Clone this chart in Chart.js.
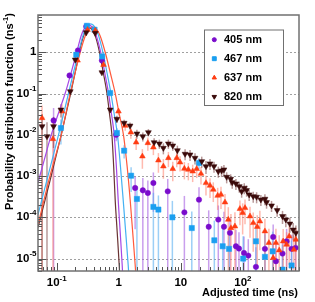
<!DOCTYPE html>
<html><head><meta charset="utf-8">
<script src="https://cdn.jsdelivr.net/npm/chart.js@4.4.1/dist/chart.umd.min.js"></script>
<style>html,body{margin:0;padding:0;background:#fff;}canvas{display:block;}</style>
</head><body>
<canvas id="c" width="315" height="302"></canvas>
<script>
// ---------- data ----------
const seriesLabels = ['405 nm', '467 nm', '637 nm', '820 nm'];

const t405 = [0.0891, 0.161, 0.22, 0.299, 0.535, 0.908, 1.835, 2.44, 2.94, 3.61, 6.15, 11.4, 19.6, 28.1, 40.1, 49.5, 61.8, 77.1, 86.3, 104, 122, 162, 226, 307, 340, 434, 505, 607, 705];
const p405 = [0.0223, 0.274, 1.105, 4.21, 0.633, 0.01, 5.15e-4, 4.51e-4, 3.9e-4, 6.8e-4, 4.26e-4, 1.32e-4, 2.68e-4, 5.9e-5, 8.8e-5, 5.9e-5, 4.2e-5, 1.99e-5, 1.75e-5, 1.37e-5, 1.18e-5, 6.3e-6, 1.72e-5, 3.35e-5, 8.6e-6, 1.32e-5, 2.62e-5, 1.72e-5, 1.82e-5];
const e405 = [1.0, 0.15, 0.06, 0.04, 0.08, 0.3, 0.9, 1.0, 1.0, 0.8, 1.0, 1.5, 1.0, 1.5, 1.2, 1.3, 1.3, 1.5, 1.5, 1.5, 1.5, 2.0, 1.5, 1.0, 1.5, 1.3, 1.0, 1.2, 1.2];

const t467 = [0.117, 0.2065, 0.307, 0.407, 0.541, 0.727, 0.932, 1.22, 1.58, 1.96, 3.61, 4.35, 7.3, 15.0, 19.6, 34.6, 47.2, 59.6, 101, 162, 226, 301, 434, 607];
const p467 = [0.0146, 0.87, 4.38, 3.51, 0.791, 0.1028, 0.01106, 0.00412, 0.00102, 2.79e-4, 1.79e-4, 1.54e-4, 1.0e-4, 5.5e-5, 2.08e-3, 2.77e-5, 1.99e-5, 1.72e-5, 1.0e-5, 2.62e-5, 1.1e-5, 1.5e-5, 5.4e-6, 6.8e-6];
const e467 = [0.6, 0.06, 0.04, 0.04, 0.06, 0.1, 0.3, 0.35, 0.6, 1.0, 1.2, 1.2, 1.5, 1.5, 0.3, 2.0, 2.0, 2.0, 2.5, 1.5, 2.5, 2.0, 3.0, 3.0];

const t637 = [0.0581, 0.0871, 0.1217, 0.217, 0.314, 0.418, 0.568, 0.989, 1.27, 1.565, 1.905, 2.40, 2.94, 3.61, 4.35, 5.23, 6.30, 7.41, 8.59, 9.71, 11.4, 13.2, 15.5, 18.0, 21.1, 25.4, 29.5, 33.3, 39.2, 44.3, 51.4, 58.1, 64.1, 74.3, 89.5, 98.9, 108, 130, 146.5, 170, 187.5, 226, 262, 307, 340, 384, 445, 505, 556, 661, 712];
const p637 = [0.0255, 0.0079, 0.0369, 0.633, 3.51, 3.37, 0.498, 0.0369, 0.0166, 0.01143, 0.00655, 0.0030, 0.00633, 0.00495, 0.0024, 0.00172, 0.00274, 0.00149, 0.00274, 0.00215, 0.00151, 0.00143, 0.0013, 0.00149, 0.00114, 6.8e-4, 5.86e-4, 4.69e-4, 3.35e-4, 3.55e-4, 2.31e-4, 8.8e-5, 5.5e-5, 6.05e-5, 1.6e-4, 1.28e-4, 1.69e-4, 1.06e-4, 7.3e-5, 5.9e-5, 8.0e-5, 4.6e-5, 2.4e-5, 1.04e-5, 2.4e-5, 1.59e-5, 2.62e-5, 2.18e-5, 3.47e-5, 1.65e-5, 2.88e-5];
const e637 = [1.0, 1.5, 0.5, 0.06, 0.04, 0.04, 0.08, 0.2, 0.25, 0.3, 0.35, 0.5, 0.35, 0.35, 0.5, 0.5, 0.4, 0.5, 0.4, 0.4, 0.45, 0.45, 0.45, 0.4, 0.45, 0.5, 0.5, 0.5, 0.55, 0.55, 0.6, 1.0, 1.2, 1.2, 0.6, 0.7, 0.6, 0.7, 0.8, 0.9, 0.8, 1.0, 1.2, 1.5, 1.2, 1.3, 1.0, 1.0, 0.8, 1.2, 0.9];

const t820 = [0.0581, 0.0698, 0.0891, 0.117, 0.1655, 0.199, 0.299, 0.418, 0.535, 0.727, 0.932, 1.22, 1.52, 1.96, 2.44, 3.0, 3.71, 4.51, 5.23, 6.3, 7.41, 8.79, 11.7, 14.06, 16.9, 21.7, 25.4, 29.5, 34.2, 40.1, 45.3, 49.4, 54.7, 63.4, 67.2, 77.1, 87.3, 95.3, 105, 114.6, 126, 146.5, 166, 194.5, 226, 240, 289, 356, 434, 491, 570, 644, 712];
const p820 = [0.016, 0.00915, 0.016, 0.0405, 0.1125, 0.658, 3.01, 2.92, 0.324, 0.0405, 0.0241, 0.0193, 0.0166, 0.01065, 0.00915, 0.01143, 0.00655, 0.0061, 0.00479, 0.0061, 0.00545, 0.00419, 0.00343, 0.0033, 0.00274, 0.00227, 0.00172, 0.002, 0.00172, 0.0013, 0.00135, 0.00143, 9.5e-4, 8.5e-4, 7.03e-4, 6.54e-4, 5.63e-4, 4.26e-4, 5.15e-4, 4.51e-4, 3.55e-4, 3.22e-4, 3.12e-4, 2.68e-4, 2.79e-4, 2.31e-4, 1.92e-4, 1.48e-4, 1.06e-4, 8.8e-5, 7.0e-5, 5.0e-5, 4.2e-5];
const e820 = [1.0, 1.2, 0.7, 0.35, 0.15, 0.06, 0.03, 0.03, 0.06, 0.15, 0.2, 0.2, 0.2, 0.25, 0.25, 0.2, 0.25, 0.25, 0.3, 0.25, 0.25, 0.3, 0.3, 0.3, 0.3, 0.3, 0.35, 0.3, 0.3, 0.3, 0.3, 0.3, 0.3, 0.3, 0.3, 0.3, 0.3, 0.3, 0.3, 0.3, 0.3, 0.3, 0.3, 0.3, 0.3, 0.3, 0.3, 0.3, 0.35, 0.35, 0.4, 0.45, 0.5];

// fitted curves
const fitT405 = [0.05, 0.0632, 0.0819, 0.106, 0.1375, 0.1718, 0.2104, 0.2486, 0.283, 0.328, 0.380, 0.433, 0.512, 0.593, 0.683, 0.763, 0.843, 0.915, 0.978, 1.053, 1.134, 1.199];
const fitP405 = [6.92e-4, 2.49e-3, 0.01005, 0.0324, 0.1028, 0.328, 1, 2.55, 3.90, 4.63, 3.90, 2.55, 1, 0.328, 0.1028, 0.0324, 0.01, 1.69e-3, 2.68e-4, 4.5e-5, 7.2e-6, 1.34e-6];
const fitT467 = [0.05, 0.0733, 0.1073, 0.1553, 0.187, 0.225, 0.268, 0.305, 0.353, 0.410, 0.4665, 0.555, 0.644, 0.746, 0.843, 0.953, 1.065, 1.177, 1.291, 1.416, 1.525];
const fitP467 = [1.16e-4, 1.08e-3, 0.01005, 0.1028, 0.328, 1, 2.68, 4.12, 4.90, 4.12, 2.68, 1, 0.328, 0.1028, 0.0324, 0.01, 1.69e-3, 2.68e-4, 4.5e-5, 7.2e-6, 1.34e-6];
const fitT637 = [0.05, 0.0789, 0.1186, 0.1655, 0.199, 0.2394, 0.2884, 0.328, 0.3805, 0.441, 0.502, 0.6045, 0.727, 0.875, 1.015, 1.19, 1.365, 1.525, 1.673, 1.835, 1.976];
const fitP637 = [6.65e-5, 1.08e-3, 0.01005, 0.1028, 0.328, 1, 2.48, 3.58, 4.14, 3.58, 2.48, 1, 0.328, 0.1028, 0.0324, 0.01, 1.69e-3, 2.68e-4, 4.5e-5, 7.2e-6, 1.34e-6];
const fitT820 = [0.05, 0.0789, 0.1186, 0.1685, 0.199, 0.2308, 0.2648, 0.2958, 0.3367, 0.3834, 0.4283, 0.4895, 0.5613, 0.644, 0.7086, 0.7746, 0.828, 0.875, 0.9425, 1.015, 1.073];
const fitP820 = [5.63e-5, 8.18e-4, 0.01005, 0.1028, 0.328, 1, 2.24, 3.33, 3.92, 3.33, 2.24, 1, 0.328, 0.1028, 0.0324, 0.01, 1.69e-3, 2.68e-4, 4.5e-5, 7.2e-6, 1.34e-6];

// axis ticks
const xTickVals = [0.1, 1, 10, 100];
const xTickBase = ['10', '1', '10', '10'];
const xTickSup  = ['-1', '', '', '2'];
const yTickVals = [1, 0.1, 0.01, 0.001, 1e-4, 1e-5];
const yTickBase = ['1', '10', '10', '10', '10', '10'];
const yTickSup  = ['', '-1', '-2', '-3', '-4', '-5'];
const xTitle = 'Adjusted time (ns)';
const yTitleMain = 'Probability distribution function (ns';
const yTitleSup = '-1';
const yTitleEnd = ')';

// ---------- styling ----------
const FONT = '"Liberation Sans", Arial, Helvetica, sans-serif';
const markColors = ['#7a0ccc', '#1a9ff0', '#ff3c12', '#3a0a0a'];
const lineColors = ['#a548e6', '#45b2f2', '#ff5a3c', '#6a3434'];
const errColors  = ['rgba(165,95,225,0.6)', 'rgba(90,175,240,0.6)', 'rgba(255,130,110,0.55)', 'rgba(125,70,70,0.55)'];
const pStyles = ['circle', 'rect', 'triangle', 'triangle'];
const pRadius = [2.7, 3.7, 3.3, 3.4];
const pRot = [0, 0, 0, 180];

const pts = [[t405, p405, e405], [t467, p467, e467], [t637, p637, e637], [t820, p820, e820]];
const fits = [[fitT405, fitP405], [fitT467, fitP467], [fitT637, fitP637], [fitT820, fitP820]];
const toXY = (xs, ys) => xs.map((v, i) => ({x: v, y: ys[i]}));

const datasets = [];
fits.forEach((f, k) => datasets.push({
  label: seriesLabels[k] + ' fit', data: toXY(f[0], f[1]), showLine: true, pointRadius: 0,
  borderColor: lineColors[k], borderWidth: 1.2, cubicInterpolationMode: 'monotone', order: 20 + k
}));
pts.forEach((s, k) => datasets.push({
  label: seriesLabels[k], data: toXY(s[0], s[1]), showLine: false,
  pointStyle: pStyles[k], pointRadius: pRadius[k], pointRotation: pRot[k],
  backgroundColor: markColors[k], borderColor: markColors[k], borderWidth: 0.5, order: 10 - k
}));

function drawSup(ctx, base, sup, x, y, align, size) {
  const mainF = 'bold ' + size + 'px ' + FONT, supF = 'bold ' + (size * 0.7).toFixed(1) + 'px ' + FONT;
  ctx.font = mainF; const wb = ctx.measureText(base).width;
  ctx.font = supF; const ws = sup ? ctx.measureText(sup).width : 0;
  const w = wb + ws;
  let sx = align === 'right' ? x - w : (align === 'center' ? x - w / 2 : x);
  ctx.textAlign = 'left'; ctx.textBaseline = 'middle';
  ctx.font = mainF; ctx.fillText(base, sx, y);
  if (sup) { ctx.font = supF; ctx.fillText(sup, sx + wb, y - size * 0.4); }
}

const rootStyle = {
  id: 'rootStyle',
  beforeDatasetsDraw(chart) {
    const {ctx, chartArea: a, scales: {x, y}} = chart;
    ctx.save();
    ctx.strokeStyle = '#a0a0a0'; ctx.lineWidth = 1; ctx.setLineDash([2, 2]);
    yTickVals.forEach(v => {
      const py = Math.round(y.getPixelForValue(v)) + 0.5;
      ctx.beginPath(); ctx.moveTo(a.left, py); ctx.lineTo(a.right, py); ctx.stroke();
    });
    ctx.setLineDash([]);
    ctx.beginPath(); ctx.rect(a.left, a.top, a.right - a.left, a.bottom - a.top); ctx.clip();
    pts.forEach((s, k) => {
      ctx.strokeStyle = errColors[k]; ctx.lineWidth = 1.5;
      s[0].forEach((tv, i) => {
        const v = s[1][i], r = s[2][i] !== undefined ? s[2][i] : 0.3;
        const px = x.getPixelForValue(tv), py = y.getPixelForValue(v);
        const up = y.getPixelForValue(v * (1 + r));
        const lo = r >= 1 ? a.bottom + 5 : y.getPixelForValue(v * (1 - r));
        ctx.beginPath(); ctx.moveTo(px, up); ctx.lineTo(px, lo); ctx.stroke();
        const xl = x.getPixelForValue(tv / 1.09), xr = x.getPixelForValue(tv * 1.09);
        ctx.beginPath(); ctx.moveTo(xl, py); ctx.lineTo(xr, py); ctx.stroke();
      });
    });
    ctx.restore();
  },
  afterDatasetsDraw(chart) {
    const {ctx, chartArea: a, scales: {x, y}} = chart;
    ctx.save();
    // ticks
    ctx.strokeStyle = '#555'; ctx.lineWidth = 1;
    for (let e = -6; e <= 1; e++) for (let m = 1; m <= 9; m++) {
      const v = m * Math.pow(10, e);
      if (v < y.min * 0.999 || v > y.max * 1.001) continue;
      const py = Math.round(y.getPixelForValue(v)) + 0.5;
      const len = m === 1 ? 8 : 4;
      ctx.beginPath(); ctx.moveTo(a.left, py); ctx.lineTo(a.left + len, py); ctx.stroke();
    }
    for (let e = -2; e <= 3; e++) for (let m = 1; m <= 9; m++) {
      const v = m * Math.pow(10, e);
      if (v < x.min * 0.999 || v > x.max * 1.001) continue;
      const px = Math.round(x.getPixelForValue(v)) + 0.5;
      const len = m === 1 ? 8 : 4;
      ctx.beginPath(); ctx.moveTo(px, a.bottom); ctx.lineTo(px, a.bottom - len); ctx.stroke();
    }
    // frame
    ctx.strokeStyle = '#707070'; ctx.lineWidth = 1.5;
    ctx.strokeRect(a.left, a.top, a.right - a.left, a.bottom - a.top);
    // tick labels
    ctx.fillStyle = '#000';
    yTickVals.forEach((v, i) => drawSup(ctx, yTickBase[i], yTickSup[i], a.left - 1.5, y.getPixelForValue(v), 'right', 11.5));
    xTickVals.forEach((v, i) => drawSup(ctx, xTickBase[i], xTickSup[i], x.getPixelForValue(v), a.bottom + 12, 'center', 11.5));
    // x title
    ctx.font = 'bold 11px ' + FONT; ctx.textAlign = 'right'; ctx.textBaseline = 'middle';
    ctx.fillText(xTitle, a.right - 1, a.bottom + 21.5);
    // y title
    ctx.save();
    ctx.translate(10, 13); ctx.rotate(-Math.PI / 2);
    const mf = 'bold 11px ' + FONT, sf = 'bold 7.7px ' + FONT;
    ctx.font = mf; const w1 = ctx.measureText(yTitleMain).width, w3 = ctx.measureText(yTitleEnd).width;
    ctx.font = sf; const w2 = ctx.measureText(yTitleSup).width;
    let sx = -(w1 + w2 + w3);
    ctx.textAlign = 'left'; ctx.textBaseline = 'middle';
    ctx.font = mf; ctx.fillText(yTitleMain, sx, 0);
    ctx.font = sf; ctx.fillText(yTitleSup, sx + w1, -4.5);
    ctx.font = mf; ctx.fillText(yTitleEnd, sx + w1 + w2, 0);
    ctx.restore();
    // legend
    const lx = 204.5, ly = 30, lw = 79, lh = 75.5;
    ctx.fillStyle = '#fff'; ctx.fillRect(lx, ly, lw, lh);
    ctx.strokeStyle = '#707070'; ctx.lineWidth = 1; ctx.strokeRect(lx, ly, lw, lh);
    seriesLabels.forEach((lab, k) => {
      const cy = ly + 9.7 + 19 * k;
      ctx.fillStyle = markColors[k]; ctx.strokeStyle = markColors[k];
      Chart.helpers.drawPoint(ctx, {pointStyle: pStyles[k], radius: pRadius[k] * 0.75, rotation: pRot[k], borderWidth: 0.5}, lx + 9.8, cy);
      ctx.fillStyle = '#000'; ctx.font = 'bold 11px ' + FONT; ctx.textAlign = 'left'; ctx.textBaseline = 'middle';
      ctx.fillText(lab, lx + 19.5, cy);
    });
    ctx.restore();
  }
};

new Chart(document.getElementById('c'), {
  type: 'scatter',
  data: {datasets},
  options: {
    responsive: false, animation: false, devicePixelRatio: 1, events: [],
    layout: {padding: {left: 38, top: 15, right: 16, bottom: 31}},
    scales: {
      x: {type: 'logarithmic', min: 0.05, max: 800, display: false},
      y: {type: 'logarithmic', min: 5e-6, max: 8, display: false}
    },
    plugins: {legend: {display: false}, tooltip: {enabled: false}}
  },
  plugins: [rootStyle]
});
</script>
</body></html>
